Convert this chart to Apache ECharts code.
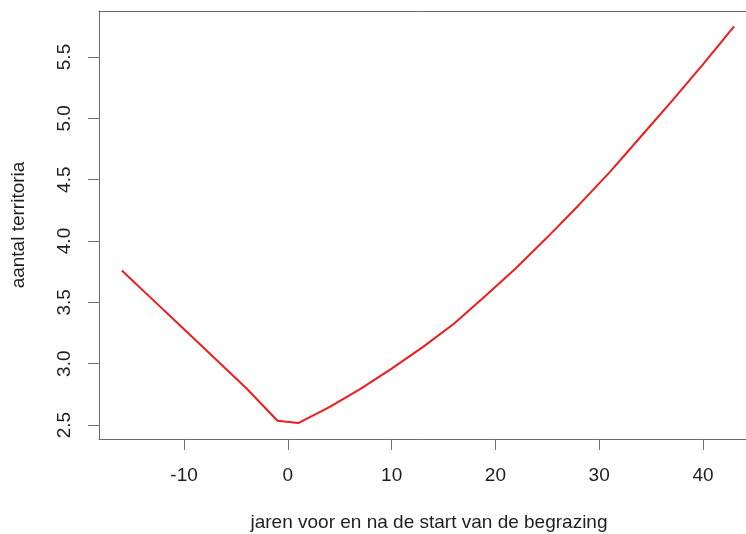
<!DOCTYPE html>
<html>
<head>
<meta charset="utf-8">
<script src="https://cdn.jsdelivr.net/npm/echarts@6/dist/echarts.min.js"></script>
<style>
  html, body { margin: 0; padding: 0; background: #fff; }
  #chart { width: 746px; height: 534px; }
</style>
</head>
<body>
<div id="chart"></div>
<script>
// Years relative to the start of grazing, and the fitted number of territories
const yearsBefore = [-16, -13, -10, -7, -4, -1];
const valuesBefore = [3.76, 3.52, 3.28, 3.04, 2.80, 2.535];
const yearsAfter = [1, 4, 7, 10, 13, 16, 19, 22, 25, 28, 31, 34, 37, 40, 43];
const valuesAfter = [2.516, 2.645, 2.795, 2.96, 3.135, 3.325, 3.55, 3.78, 4.03, 4.29, 4.56, 4.85, 5.14, 5.44, 5.75];

// Axis ticks and their labels
const xTicks = [-10, 0, 10, 20, 30, 40];
const xTickLabels = ['-10', '0', '10', '20', '30', '40'];
const yTicks = [2.5, 3.0, 3.5, 4.0, 4.5, 5.0, 5.5];
const yTickLabels = ['2.5', '3.0', '3.5', '4.0', '4.5', '5.0', '5.5'];

const xTitle = 'jaren voor en na de start van de begrazing';
const yTitle = 'aantal territoria';

const years = yearsBefore.concat(yearsAfter);
const values = valuesBefore.concat(valuesAfter);
const lineData = years.map((x, i) => [x, values[i]]);

const font = '"Liberation Sans", Arial, sans-serif';
const textColor = '#1e1e1e';
const axisGray = '#707070';
const frameGray = '#6a6a6a';
const xMin = -18.2, xMax = 45.4;

const chart = echarts.init(document.getElementById('chart'), null, { renderer: 'canvas' });
chart.setOption({
  animation: false,
  backgroundColor: '#ffffff',
  grid: {
    left: 99, top: 11, bottom: 95, right: -13,
    outerBoundsMode: 'none',
    containLabel: false,
    show: false
  },
  xAxis: [{
    type: 'value',
    position: 'bottom',
    min: xMin, max: xMax,
    name: xTitle,
    nameLocation: 'middle',
    nameGap: 74,
    nameTextStyle: { fontFamily: font, fontSize: 19, color: textColor },
    axisLine: { show: true, onZero: false, lineStyle: { color: frameGray, width: 1 } },
    splitLine: { show: false },
    axisTick: {
      show: true, length: 11, inside: false,
      customValues: xTicks,
      lineStyle: { color: axisGray, width: 1 }
    },
    axisLabel: {
      show: true, margin: 27,
      customValues: xTicks,
      fontFamily: font, fontSize: 19, color: textColor,
      formatter: v => xTickLabels[xTicks.indexOf(v)]
    }
  }, {
    // top edge of the plot frame
    type: 'value',
    position: 'top',
    min: xMin, max: xMax,
    axisLine: { show: true, onZero: false, lineStyle: { color: frameGray, width: 1 } },
    axisTick: { show: false },
    axisLabel: { show: false },
    splitLine: { show: false }
  }],
  yAxis: {
    type: 'value',
    min: 2.386, max: 5.875,
    name: yTitle,
    nameLocation: 'middle',
    nameGap: 71,
    nameRotate: 90,
    nameTextStyle: { fontFamily: font, fontSize: 19, color: textColor },
    axisLine: { show: true, onZero: false, lineStyle: { color: frameGray, width: 1 } },
    splitLine: { show: false },
    axisTick: {
      show: true, length: 11, inside: false,
      customValues: yTicks,
      lineStyle: { color: axisGray, width: 1 }
    },
    axisLabel: {
      show: true, margin: 34, rotate: 90,
      align: 'center', verticalAlign: 'middle',
      customValues: yTicks,
      fontFamily: font, fontSize: 19, color: textColor,
      formatter: v => yTickLabels[yTicks.indexOf(v)]
    }
  },
  series: [{
    type: 'line',
    xAxisIndex: 0,
    data: lineData,
    showSymbol: false,
    smooth: false,
    lineStyle: { color: '#ee1c1c', width: 2 },
    silent: true
  }]
});
</script>
</body>
</html>
